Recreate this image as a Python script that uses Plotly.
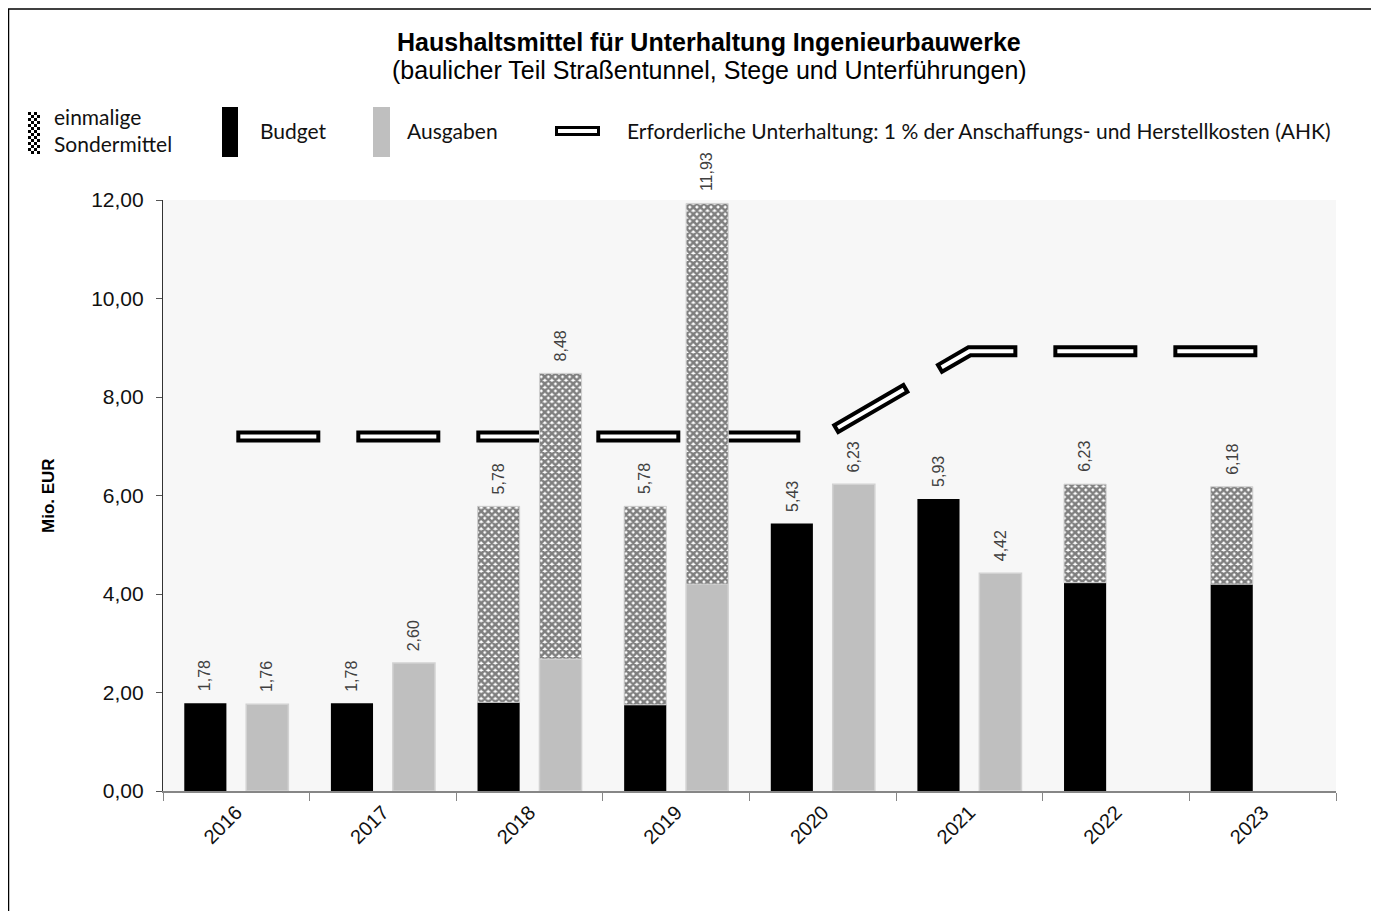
import plotly.graph_objects as go

# ---------------- data ----------------
years = ["2016", "2017", "2018", "2019", "2020", "2021", "2022", "2023"]
budget = [1.78, 1.78, 1.80, 1.75, 5.43, 5.93, 4.23, 4.20]
sonder_budget = [None, None, 3.98, 4.03, None, None, 2.00, 1.98]
ausgaben = [1.76, 2.60, 2.68, 4.20, 6.23, 4.42, None, None]
sonder_ausgaben = [None, None, 5.80, 7.73, None, None, None, None]
erforderlich = [7.20, 7.20, 7.20, 7.20, 7.20, 8.93, 8.93, 8.93]
y_ticks = [0, 2, 4, 6, 8, 10, 12]

title_text = "Haushaltsmittel für Unterhaltung Ingenieurbauwerke"
subtitle_text = "(baulicher Teil Straßentunnel, Stege und Unterführungen)"
legend_labels = ["einmalige", "Sondermittel", "Budget", "Ausgaben",
                 "Erforderliche Unterhaltung: 1 % der Anschaffungs- und Herstellkosten (AHK)"]
y_title = "Mio. EUR"

# ---------------- layout geometry ----------------
W, H = 1363, 903
L, R, T, B = 155, 35, 192, 120
PW, PH = W - L - R, H - T - B
BARGAP, GROUPGAP = 0.155, 0.32
cat_w = PW / len(years)
shift = (1 - BARGAP) * cat_w / 4


def px(x):
    return (x - L) / PW


def py(y):
    return (H - B - y) / PH


def fmt(v):
    return f"{v:.2f}".replace(".", ",")


GRAY = "#bfbfbf"
FONT = "Liberation Sans"
LFONT = "Lato"

fig = go.Figure()

# requirement line (drawn on base axes -> behind bars)
fig.add_trace(go.Scatter(x=years, y=erforderlich, mode="lines",
                         line=dict(color="black", width=12, dash="84px,36px"),
                         hoverinfo="skip", showlegend=False))
fig.add_trace(go.Scatter(x=years, y=erforderlich, mode="lines",
                         line=dict(color="white", width=4, dash="0px,4px,76px,40px"),
                         hoverinfo="skip", showlegend=False))

checker = dict(shape="x", size=5, solidity=0.75, fgcolor="black", bgcolor="white")

fig.add_trace(go.Bar(x=years, y=budget, offsetgroup="b", name="Budget",
                     marker=dict(color="black", line=dict(width=0)),
                     xaxis="x2", yaxis="y2", showlegend=False))
fig.add_trace(go.Bar(x=years, y=ausgaben, offsetgroup="a", name="Ausgaben",
                     marker=dict(color=GRAY, line=dict(color="#d2d2d2", width=1.5)),
                     xaxis="x2", yaxis="y2", showlegend=False))
fig.add_trace(go.Bar(x=years, y=sonder_budget, base=[b if s is not None else None for b, s in zip(budget, sonder_budget)],
                     offsetgroup="b", name="einmalige Sondermittel",
                     marker=dict(color="white", pattern=checker, line=dict(color="#cfcfcf", width=1)),
                     xaxis="x2", yaxis="y2", showlegend=False))
fig.add_trace(go.Bar(x=years, y=sonder_ausgaben, base=[a if s is not None else None for a, s in zip(ausgaben, sonder_ausgaben)],
                     offsetgroup="a", name="einmalige Sondermittel",
                     marker=dict(color="white", pattern=checker, line=dict(color="#cfcfcf", width=1)),
                     xaxis="x2", yaxis="y2", showlegend=False))

annotations = []
# value labels (x given as category index)
for i, yr in enumerate(years):
    for base, extra, sgn in ((budget[i], sonder_budget[i], -1), (ausgaben[i], sonder_ausgaben[i], 1)):
        if base is None:
            continue
        top = base + (extra or 0)
        annotations.append(dict(x=i, y=top, xref="x", yref="y", text=fmt(top),
                                showarrow=False, textangle=-90, xanchor="center", yanchor="bottom",
                                xshift=sgn * shift, yshift=10,
                                font=dict(family=FONT, size=16, color="#404040")))

# titles
annotations.append(dict(x=px(701), y=py(34), xref="paper", yref="paper", showarrow=False,
                        text="<b>" + title_text + "</b>", xanchor="center", yanchor="middle",
                        font=dict(family=FONT, size=25, color="black")))
annotations.append(dict(x=px(701), y=py(62), xref="paper", yref="paper", showarrow=False,
                        text=subtitle_text, xanchor="center", yanchor="middle",
                        font=dict(family=FONT, size=25, color="black")))
annotations.append(dict(x=px(40), y=py(488), xref="paper", yref="paper", showarrow=False,
                        text="<b>" + y_title + "</b>", textangle=-90, xanchor="center", yanchor="middle",
                        font=dict(family=FONT, size=17, color="black")))

# legend texts
leg_font = dict(family=LFONT, size=21, color="#111111")
for txt, x, y in ((legend_labels[0], 44, 109), (legend_labels[1], 44, 135), (legend_labels[2], 250, 123),
                  (legend_labels[3], 397, 123), (legend_labels[4], 617, 123)):
    annotations.append(dict(x=px(x), y=py(y), xref="paper", yref="paper", showarrow=False,
                            text=txt, xanchor="left", yanchor="middle", font=leg_font))

shapes = []
# border
shapes.append(dict(type="line", xref="paper", yref="paper", x0=px(0.5), x1=px(0.5), y0=py(1), y1=py(H),
                   line=dict(color="black", width=1.5)))
shapes.append(dict(type="line", xref="paper", yref="paper", x0=px(0), x1=px(W), y0=py(1), y1=py(1),
                   line=dict(color="black", width=1.5)))
# legend swatches
shapes.append(dict(type="rect", xref="paper", yref="paper", x0=px(20), x1=px(32), y0=py(146), y1=py(104),
                   fillcolor="white", line=dict(width=0)))
for r in range(14):
    for c in range(4):
        if (r + c) % 2 == 0:
            shapes.append(dict(type="rect", xref="paper", yref="paper",
                               x0=px(20 + 3 * c), x1=px(23 + 3 * c), y0=py(107 + 3 * r), y1=py(104 + 3 * r),
                               fillcolor="black", line=dict(width=0)))
shapes.append(dict(type="rect", xref="paper", yref="paper", x0=px(214), x1=px(230), y0=py(149), y1=py(99),
                   fillcolor="black", line=dict(width=0)))
shapes.append(dict(type="rect", xref="paper", yref="paper", x0=px(365), x1=px(382), y0=py(149), y1=py(99),
                   fillcolor=GRAY, line=dict(width=0)))
shapes.append(dict(type="line", xref="paper", yref="paper", x0=px(547), x1=px(592), y0=py(123), y1=py(123),
                   line=dict(color="black", width=10)))
shapes.append(dict(type="line", xref="paper", yref="paper", x0=px(550), x1=px(589), y0=py(123), y1=py(123),
                   line=dict(color="white", width=4)))

fig.update_layout(
    width=W, height=H,
    margin=dict(l=L, r=R, t=T, b=B, pad=0),
    paper_bgcolor="white", plot_bgcolor="#f7f7f7",
    barmode="group", bargap=BARGAP, bargroupgap=GROUPGAP,
    separators=",.",
    showlegend=False,
    xaxis=dict(type="category", range=[-0.5, len(years) - 0.5], showline=True, linecolor="#868686", linewidth=1.5,
               ticks="outside", tickson="boundaries", ticklen=8, tickcolor="#868686", tickwidth=1.2,
               tickangle=-45, tickfont=dict(family=FONT, size=20, color="#111111"), showgrid=False, zeroline=False,
               fixedrange=True),
    yaxis=dict(range=[0, 12], tickvals=y_ticks, tickformat=".2f", showline=True, linecolor="#333333",
               linewidth=1.2, ticks="outside", ticklen=6, tickcolor="#555555", ticklabelstandoff=8,
               tickfont=dict(family=FONT, size=21, color="#111111"), showgrid=False, zeroline=False,
               fixedrange=True),
    xaxis2=dict(type="category", overlaying="x", matches="x", visible=False),
    yaxis2=dict(overlaying="y", matches="y", visible=False),
    annotations=annotations,
    shapes=shapes,
)

fig.write_html("out.html")
